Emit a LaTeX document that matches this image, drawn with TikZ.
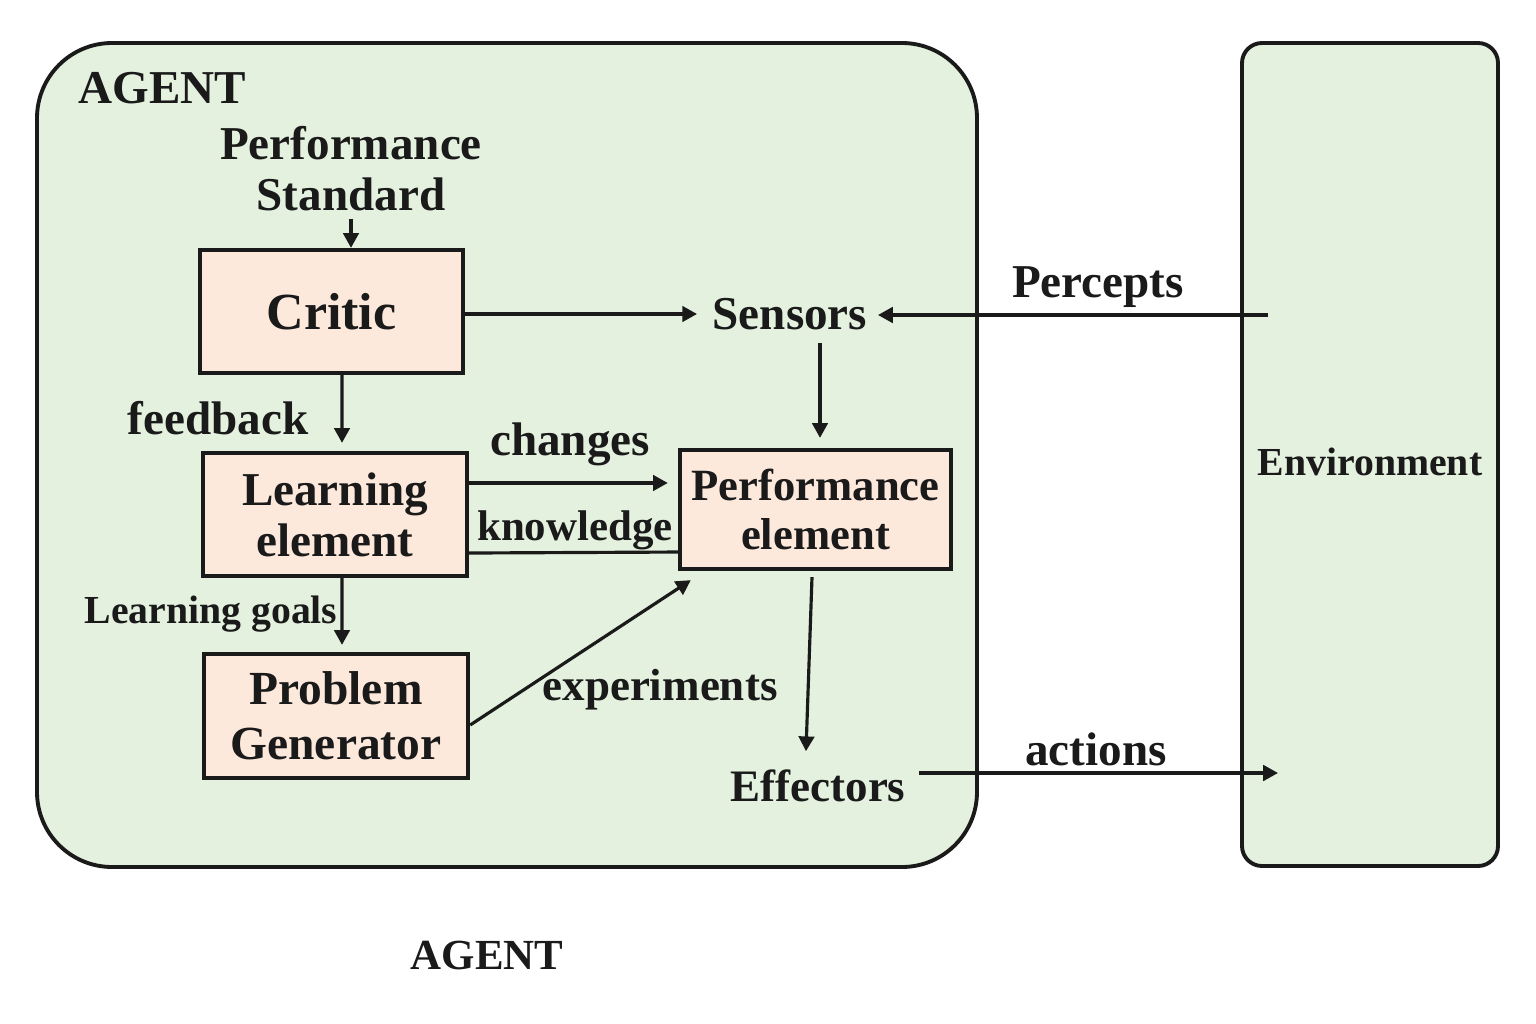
\documentclass[tikz,border=0pt]{standalone}
\usepackage{fontspec}
\setmainfont{Liberation Serif}
\usetikzlibrary{arrows.meta}
\definecolor{ink}{HTML}{1A1A1A}
\definecolor{agentfill}{HTML}{E4F1DE}
\definecolor{boxfill}{HTML}{FDE8DC}
\tikzset{
  fA/.style={font=\fontsize{13.4pt}{14.5pt}\selectfont\bfseries},
  fCritic/.style={font=\fontsize{14.8pt}{16pt}\selectfont\bfseries},
  fB/.style={font=\fontsize{12.8pt}{14pt}\selectfont\bfseries},
  fC/.style={font=\fontsize{12.2pt}{14pt}\selectfont\bfseries},
  fD/.style={font=\fontsize{11.3pt}{13pt}\selectfont\bfseries},
  lbl/.style={inner sep=2pt, text=ink, align=center},
  box/.style={draw=ink, line width=1.2pt, fill=boxfill, align=center, inner sep=0pt, text=ink},
  arr/.style={line width=0.9pt, draw=ink, -{Triangle[length=4.2pt,width=4.4pt]}},
  ln/.style={line width=0.9pt, draw=ink},
}
\begin{document}
\begin{tikzpicture}[x=0.01cm,y=-0.01cm]
\useasboundingbox (0,0) rectangle (1536,1024);
\fill[white] (0,0) rectangle (1536,1024);
% containers
\draw[draw=ink, line width=1.1pt, fill=agentfill, rounded corners=0.75cm] (37,43) rectangle (977,867);
\draw[draw=ink, line width=1.1pt, fill=agentfill, rounded corners=0.2cm] (1242,43) rectangle (1498,866);
\node[lbl, fA, anchor=west] (agenttop) at (71,88) {AGENT};
\node[lbl, fC] (agentbot) at (487,955) {AGENT};
\node[lbl, fD] (env) at (1370,462) {Environment};
% boxes
\node[box, fCritic, minimum width=2.63cm, minimum height=1.23cm] (critic) at (331.5,311.5) {Critic};
\node[box, fA, minimum width=2.64cm, minimum height=1.23cm] (learn) at (335,514.5) {Learning\\element};
\node[box, font=\fontsize{12.7pt}{14.2pt}\selectfont\bfseries, minimum width=2.71cm, minimum height=1.19cm] (perf) at (815.5,509.5) {Performance\\element};
\node[box, font=\fontsize{13.5pt}{15.5pt}\selectfont\bfseries, minimum width=2.64cm, minimum height=1.24cm] (prob) at (336,716) {Problem\\Generator};
% text nodes
\node[lbl, fA] (std) at (351,168.5) {Performance\\Standard};
\node[lbl, fA] (sensors) at (790,314) {Sensors};
\node[lbl, fB] (eff) at (818,786) {Effectors};
\coordinate (penv) at (1268,315);
\coordinate (aenv) at (1278,773);
% labels
\node[lbl, fA] (lpercepts) at (1098,287) {Percepts};
\node[lbl, fA] (lactions) at (1096,749) {actions};
\node[lbl, fA] (lfeedback) at (218,418) {feedback};
\node[lbl, fA] (lchanges) at (570,444) {changes};
\node[lbl, fC] (lknow) at (575,530) {knowledge};
\node[lbl, fD] (lgoals) at (211,614) {Learning goals};
\node[lbl, fB] (lexp) at (660,690) {experiments};
% connectors
\draw[arr] (std.south) -- (std.south |- critic.north);
\draw[arr, shorten >=0.08cm] (critic.east |- sensors.west) -- (sensors.west);
\draw[arr, shorten >=0.03cm] (penv) -- (sensors.east |- penv);
\draw[arr, shorten <=0.05cm, shorten >=0.1cm] (sensors.south -| 820,0) -- (perf.north -| 820,0);
\draw[arr, shorten >=0.08cm] ([xshift=0.105cm]critic.south) -- ([xshift=0.07cm]learn.north);
\draw[arr, shorten >=0.1cm] ([yshift=0.315cm]learn.east) coordinate (c1) -- (c1 -| perf.west);
\draw[ln] ([yshift=-0.385cm]learn.east) coordinate (k1) -- ([yshift=-0.425cm]perf.west);
\draw[arr, shorten >=0.07cm] ([xshift=0.07cm]learn.south) -- ([xshift=0.06cm]prob.north);
\draw[arr] ([yshift=-0.09cm]prob.east) -- ([xshift=0.13cm,yshift=-0.09cm]perf.south west);
\draw[arr] ([xshift=-0.035cm,yshift=-0.06cm]perf.south) -- ([xshift=-0.12cm,yshift=0.11cm]eff.north);
\draw[arr] ([xshift=0.06cm]eff.east |- aenv) -- (aenv);
\end{tikzpicture}
\end{document}
